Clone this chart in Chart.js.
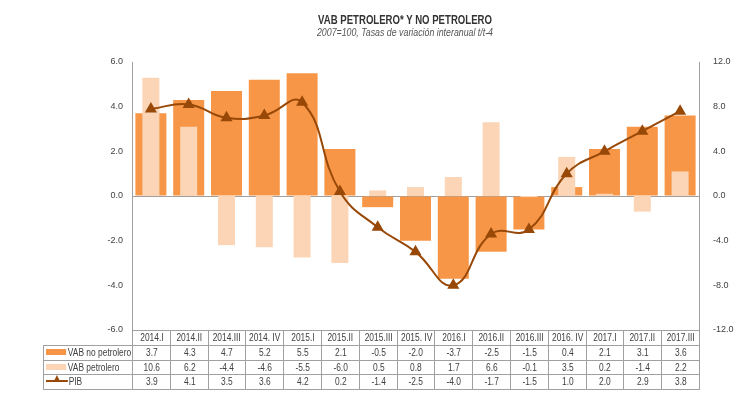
<!DOCTYPE html>
<html>
<head>
<meta charset="utf-8">
<script src="https://cdn.jsdelivr.net/npm/chart.js@4"></script>
<style>
  body { margin: 0; background: #fff; }
  #wrap { position: relative; width: 741px; height: 393px; font-family: 'Liberation Sans', Arial, sans-serif; color: #404040; }
  #chart { position: absolute; left: 0; top: 0; }
  .title { position: absolute; left: 255px; width: 300px; text-align: center; white-space: nowrap; transform: scaleX(0.8); }
  #t1 { top: 13px; font-size: 12px; font-weight: bold; color: #333; }
  #t2 { top: 26px; font-size: 11px; font-style: italic; color: #555; }
  .cell { position: absolute; box-sizing: border-box; border: 1px solid #a0a0a0; font-size: 10px; text-align: center; line-height: 13px; white-space: nowrap; }
  .cell b { font-weight: normal; display: inline-block; transform: scaleX(0.84); }
  .leg { text-align: left; padding-left: 2px; }
  .leg b { transform-origin: left center; }
  .sw { display: inline-block; width: 24px; height: 6px; vertical-align: middle; margin-right: 2px; position: relative; top: -1px; }
  .ln { display: inline-block; width: 26px; height: 2px; background: #984807; vertical-align: middle; margin-right: 1px; position: relative; top: -1px; }
  .ln i { position: absolute; left: 9px; top: -5px; width: 0; height: 0; border-left: 4px solid transparent; border-right: 4px solid transparent; border-bottom: 7px solid #984807; }
</style>
</head>
<body>
<div id="wrap">
  <canvas id="chart" width="741" height="393"></canvas>
  <div class="title" id="t1">VAB PETROLERO* Y NO PETROLERO</div>
  <div class="title" id="t2">2007=100, Tasas de variación interanual t/t-4</div>
</div>
<script>
const trimestres = ['2014.I', '2014.II', '2014.III', '2014. IV', '2015.I', '2015.II', '2015.III', '2015. IV',
    '2016.I', '2016.II', '2016.III', '2016. IV', '2017.I', '2017.II', '2017.III'];
const vabNoPetrolero = [3.7, 4.3, 4.7, 5.2, 5.5, 2.1, -0.5, -2.0, -3.7, -2.5, -1.5, 0.4, 2.1, 3.1, 3.6];
const vabPetrolero = [10.6, 6.2, -4.4, -4.6, -5.5, -6.0, 0.5, 0.8, 1.7, 6.6, -0.1, 3.5, 0.2, -1.4, 2.2];
const pib = [3.9, 4.1, 3.5, 3.6, 4.2, 0.2, -1.4, -2.5, -4.0, -1.7, -1.5, 1.0, 2.0, 2.9, 3.8];

const colorOscuro = '#F79646';
const colorClaro = '#FBD5B5';
const colorLinea = '#984807';

Chart.defaults.font.family = "'Liberation Sans', Arial, sans-serif";
Chart.defaults.font.size = 9;
Chart.defaults.color = '#404040';

const ctx = document.getElementById('chart').getContext('2d');
const chart = new Chart(ctx, {
    type: 'bar',
    data: {
        labels: trimestres,
        datasets: [
            {
                type: 'line',
                label: 'PIB',
                data: pib,
                yAxisID: 'y',
                borderColor: colorLinea,
                backgroundColor: colorLinea,
                borderWidth: 2,
                tension: 0.45,
                pointStyle: 'triangle',
                pointRadius: 5,
                order: 0
            },
            {
                label: 'VAB petrolero',
                data: vabPetrolero,
                yAxisID: 'y1',
                backgroundColor: colorClaro,
                grouped: false,
                barPercentage: 0.45,
                categoryPercentage: 1,
                order: 1
            },
            {
                label: 'VAB no petrolero',
                data: vabNoPetrolero,
                yAxisID: 'y',
                backgroundColor: colorOscuro,
                grouped: false,
                barPercentage: 0.82,
                categoryPercentage: 1,
                order: 2
            }
        ]
    },
    options: {
        responsive: false,
        animation: false,
        layout: { padding: { top: 62, bottom: 63, left: 0, right: 0 } },
        plugins: {
            legend: { display: false },
            tooltip: { enabled: false }
        },
        scales: {
            x: { display: false, offset: true },
            y: {
                position: 'left',
                min: -6, max: 6,
                afterFit: s => { s.width = 132; },
                ticks: { stepSize: 2, padding: 9, callback: v => v.toFixed(1) },
                border: { color: '#a0a0a0' },
                grid: {
                    drawTicks: false,
                    color: c => c.tick && c.tick.value === 0 ? '#a0a0a0' : 'transparent'
                }
            },
            y1: {
                position: 'right',
                min: -12, max: 12,
                afterFit: s => { s.width = 42; },
                ticks: { stepSize: 4, padding: 6, callback: v => v.toFixed(1) },
                border: { color: '#a0a0a0' },
                grid: { display: false }
            }
        }
    }
});

// Tabla de datos bajo el gráfico
function buildTable(chart) {
    const wrap = document.getElementById('wrap');
    const xs = chart.scales.x;
    const area = chart.chartArea;
    const colW = xs.width / trimestres.length;
    const tops = [330, 345, 360, 374, 389];
    const legLeft = 43;

    function addCell(l, r, row, html, extra) {
        const d = document.createElement('div');
        d.className = 'cell' + (extra ? ' ' + extra : '');
        d.style.left = l + 'px';
        d.style.width = (r - l + 1) + 'px';
        d.style.top = tops[row] + 'px';
        d.style.height = (tops[row + 1] - tops[row] + 1) + 'px';
        d.innerHTML = html;
        wrap.appendChild(d);
    }

    const rows = [
        { name: 'VAB no petrolero', data: vabNoPetrolero, sw: '<span class="sw" style="background:' + colorOscuro + '"></span>' },
        { name: 'VAB petrolero', data: vabPetrolero, sw: '<span class="sw" style="background:' + colorClaro + '"></span>' },
        { name: 'PIB', data: pib, sw: '<span class="ln"><i></i></span>' }
    ];

    trimestres.forEach((t, i) => {
        const l = Math.round(area.left + i * colW);
        const r = Math.round(area.left + (i + 1) * colW);
        addCell(l, r, 0, '<b>' + t + '</b>');
        rows.forEach((row, k) => addCell(l, r, k + 1, '<b>' + row.data[i].toFixed(1) + '</b>'));
    });
    rows.forEach((row, k) => addCell(legLeft, Math.round(area.left), k + 1, '<b>' + row.sw + row.name + '</b>', 'leg'));
}

buildTable(chart);
</script>
</body>
</html>
